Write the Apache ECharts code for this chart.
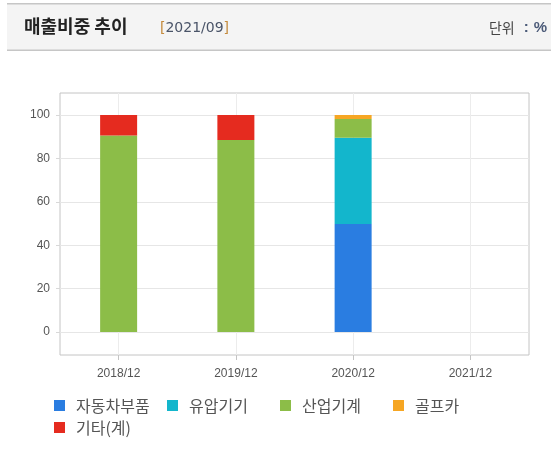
<!DOCTYPE html>
<html>
<head>
<meta charset="utf-8">
<style>
html,body{margin:0;padding:0;background:#fff;}
#chart{width:551px;height:451px;}
</style>
<script src="https://cdn.jsdelivr.net/npm/echarts@6/dist/echarts.min.js"></script>
</head>
<body>
<div id="chart"></div>
<script>
const categories = ['2018/12', '2019/12', '2020/12', '2021/12'];
const seriesNames = ['자동차부품', '유압기기', '산업기계', '골프카', '기타(계)'];
const autoParts  = [null, null, 49.8, null];
const hydraulic  = [null, null, 39.7, null];
const industrial = [90.5, 88.5, 8.7, null];
const golfCart   = [null, null, 1.8, null];
const others     = [9.5, 11.5, null, null];
const yTicks = [0, 20, 40, 60, 80, 100];
const titleText = '매출비중 추이';
const dateText = '2021/09';
const unitText = '단위';

const colors = ['#2a7de1', '#13b6cc', '#8cbd48', '#f6a623', '#e52b1f'];
const values = [autoParts, hydraulic, industrial, golfCart, others];
const KR = '"Noto Sans CJK KR", "Noto Sans", sans-serif';
const NUM = '"Liberation Sans", Arial, sans-serif';
const WIDE = '"DejaVu Sans", Verdana, sans-serif';

const chart = echarts.init(document.getElementById('chart'), null, {renderer: 'canvas'});

chart.setOption({
  animation: false,
  backgroundColor: '#ffffff',
  graphic: [
    {type: 'rect', left: 7, top: 4, shape: {width: 544, height: 46}, style: {fill: '#f4f4f4'}, silent: true, z: 0},
    {type: 'rect', left: 7, top: 3, shape: {width: 544, height: 1.5}, style: {fill: '#c6c6c6'}, silent: true, z: 1},
    {type: 'rect', left: 7, top: 49.5, shape: {width: 544, height: 1.5}, style: {fill: '#c6c6c6'}, silent: true, z: 1},
    {type: 'text', left: 24, top: 17, style: {text: titleText, font: 'bold 18px ' + KR, fill: '#222'}, z: 2},
    {type: 'text', left: 160, top: 21, style: {
      text: '{b|[}{d|' + dateText + '}{b|]}',
      rich: {
        b: {fontSize: 14, fontFamily: WIDE, fill: '#c48a3c'},
        d: {fontSize: 14, fontFamily: WIDE, fill: '#4a5468'}
      }
    }, z: 2},
    {type: 'text', right: 4, top: 20, style: {
      text: '{u|' + unitText + '}{s|:}{p|%}',
      rich: {
        u: {fontSize: 14, fontFamily: KR, fill: '#444'},
        s: {fontSize: 15, fontFamily: NUM, fontWeight: 'bold', fill: '#4b5a78', padding: [0, 5, 0, 9]},
        p: {fontSize: 15, fontFamily: NUM, fontWeight: 'bold', fill: '#4b5a78'}
      }
    }, z: 2}
  ],
  grid: [
    {left: 60, right: 22, top: 93, bottom: 96, show: true, borderColor: '#c4c4c4', borderWidth: 1, backgroundColor: 'transparent'},
    {left: 60, right: 22, top: 115, bottom: 119}
  ],
  legend: {
    data: seriesNames,
    left: 54,
    top: 397,
    width: 460,
    padding: 0,
    itemGap: 5,
    itemWidth: 11,
    itemHeight: 11,
    icon: 'rect',
    selectedMode: false,
    textStyle: {fontFamily: KR, fontSize: 16, color: '#555', width: 86, lineHeight: 17, padding: [0, 0, 0, 6]}
  },
  xAxis: [
    {
      gridIndex: 0, type: 'category', data: categories, boundaryGap: true,
      axisLine: {show: false},
      axisTick: {show: true, alignWithLabel: true, length: 5, lineStyle: {color: '#c4c4c4'}},
      splitLine: {show: true, alignWithLabel: true, lineStyle: {color: '#ececec', width: 1}},
      axisLabel: {margin: 13, fontFamily: NUM, fontSize: 12, color: '#555'}
    },
    {
      gridIndex: 1, type: 'category', data: categories, boundaryGap: true, show: false
    }
  ],
  yAxis: [
    {gridIndex: 0, type: 'value', min: 0, max: 1, show: false, splitLine: {show: false}},
    {
      gridIndex: 1, type: 'value',
      min: yTicks[0], max: yTicks[yTicks.length - 1], interval: yTicks[1] - yTicks[0],
      axisLine: {show: false},
      axisTick: {show: true, length: 4, lineStyle: {color: '#d8d8d8'}},
      splitLine: {show: true, lineStyle: {color: '#e6e6e6', width: 1}},
      axisLabel: {margin: 10, fontFamily: NUM, fontSize: 12, color: '#555'}
    }
  ],
  series: seriesNames.map((name, i) => ({
    name: name,
    type: 'bar',
    stack: 'total',
    xAxisIndex: 1,
    yAxisIndex: 1,
    barWidth: 37,
    itemStyle: {color: colors[i]},
    data: values[i]
  }))
});
</script>
</body>
</html>
